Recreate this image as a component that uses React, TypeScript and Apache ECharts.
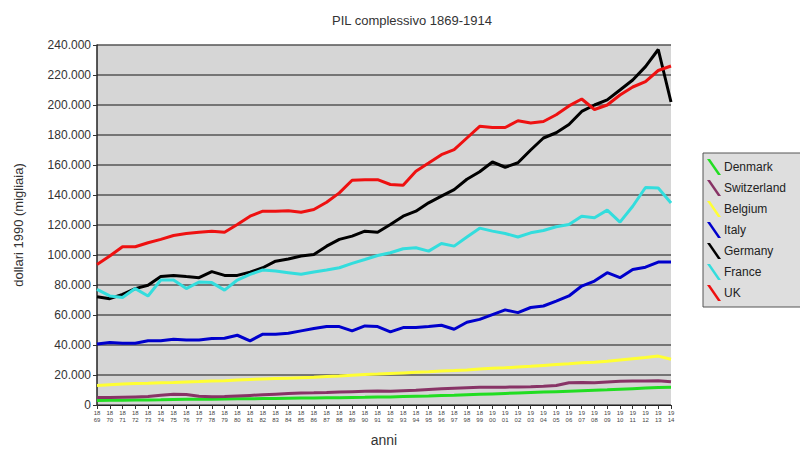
import React, { useEffect, useRef } from "react";
import * as echarts from "echarts";

const years = [
  1869, 1870, 1871, 1872, 1873, 1874, 1875, 1876, 1877, 1878, 1879, 1880, 1881, 1882, 1883, 1884,
  1885, 1886, 1887, 1888, 1889, 1890, 1891, 1892, 1893, 1894, 1895, 1896, 1897, 1898, 1899, 1900,
  1901, 1902, 1903, 1904, 1905, 1906, 1907, 1908, 1909, 1910, 1911, 1912, 1913, 1914,
];

const denmark = [
  3.0, 3.1, 3.2, 3.3, 3.4, 3.5, 3.7, 3.8, 3.8, 3.9, 4.0, 4.1, 4.2, 4.3, 4.4, 4.5,
  4.6, 4.7, 4.8, 4.9, 5.0, 5.1, 5.3, 5.4, 5.6, 5.8, 6.0, 6.3, 6.5, 6.8, 7.1, 7.4,
  7.7, 8.0, 8.3, 8.6, 8.9, 9.2, 9.5, 9.8, 10.1, 10.5, 10.9, 11.3, 11.7, 11.8,
];
const switzerland = [
  5.0, 5.0, 5.2, 5.4, 5.6, 6.5, 7.2, 7.0, 5.8, 5.5, 5.6, 6.0, 6.4, 6.8, 7.2, 7.6,
  8.0, 8.1, 8.3, 8.6, 8.9, 9.2, 9.3, 9.2, 9.5, 9.8, 10.3, 10.8, 11.2, 11.5, 11.8, 11.9,
  11.9, 12.0, 12.2, 12.5, 13.0, 14.8, 15.0, 14.8, 15.4, 15.8, 16.0, 16.0, 16.2, 15.5,
];
const belgium = [
  13.0, 13.5, 14.0, 14.3, 14.5, 14.8, 15.0, 15.3, 15.6, 16.0, 16.2, 16.6, 17.0, 17.3, 17.6, 17.9,
  18.2, 18.5, 19.0, 19.4, 19.9, 20.3, 20.6, 21.0, 21.4, 21.8, 22.2, 22.7, 23.0, 23.4, 24.0, 24.5,
  24.8, 25.3, 25.8, 26.4, 27.0, 27.5, 28.1, 28.5, 29.2, 30.0, 30.8, 31.6, 32.6, 30.5,
];
const italy = [
  40.6, 41.7, 41.2, 41.2, 42.8, 42.8, 43.9, 43.4, 43.4, 44.3, 44.5, 46.5, 42.8, 47.2, 47.2, 47.8,
  49.4, 51.0, 52.3, 52.3, 49.4, 52.7, 52.3, 48.7, 51.6, 51.6, 52.3, 53.2, 50.5, 55.2, 57.1, 60.3,
  63.4, 61.6, 65.0, 66.0, 69.3, 72.7, 79.3, 82.6, 88.2, 84.9, 90.4, 91.9, 95.3, 95.3,
];
const germany = [
  72.2, 70.9, 73.8, 77.6, 79.8, 85.6, 86.4, 85.6, 84.9, 88.9, 86.4, 86.4, 88.6, 91.5, 95.9, 97.3,
  99.3, 100.4, 105.9, 110.4, 112.6, 115.9, 115.2, 120.3, 125.9, 129.2, 134.8, 139.2, 143.6, 150.5, 155.5, 162.0,
  158.5, 161.5, 170.0, 178.0, 181.5, 187.0, 195.7, 200.0, 203.4, 210.0, 216.7, 225.6, 237.0, 202.0,
];
const france = [
  77.1, 72.7, 71.6, 77.6, 72.7, 83.3, 83.3, 77.6, 82.0, 81.6, 76.6, 83.3, 87.1, 90.0, 89.3, 88.2,
  87.1, 88.6, 90.0, 91.5, 94.4, 97.0, 99.7, 101.5, 104.2, 104.8, 102.6, 107.7, 105.9, 112.0, 117.9, 115.9,
  114.3, 112.0, 114.8, 116.3, 118.8, 120.3, 125.9, 124.8, 129.9, 121.9, 132.5, 145.0, 144.7, 134.7,
];
const uk = [
  93.7, 99.3, 105.5, 105.5, 108.2, 110.4, 113.0, 114.3, 115.2, 115.9, 115.2, 120.3, 125.9, 129.2, 129.2, 129.5,
  128.5, 130.3, 135.2, 141.4, 149.8, 150.2, 150.2, 147.0, 146.5, 155.8, 161.3, 166.9, 170.2, 178.0, 185.8, 185.0,
  185.0, 189.5, 188.0, 189.0, 193.5, 199.4, 204.0, 197.0, 200.0, 206.7, 212.0, 215.6, 223.0, 226.0,
];

const seriesNames = ["Denmark", "Switzerland", "Belgium", "Italy", "Germany", "France", "UK"];
const seriesData = [denmark, switzerland, belgium, italy, germany, france, uk];
const seriesColors = ["#22dd22", "#883366", "#ffff33", "#0000cc", "#000000", "#33dddd", "#ee1111"];

const formatIt = (v: number) => {
  const s = String(Math.round(v));
  return s.replace(/\B(?=(\d{3})+(?!\d))/g, ".");
};

export default function App() {
  const ref = useRef<HTMLDivElement>(null);
  useEffect(() => {
    if (!ref.current) return;
    const chart = echarts.init(ref.current, undefined, { renderer: "svg" });
    const font = "Liberation Sans, Arial, sans-serif";
    chart.setOption({
      animation: false,
      backgroundColor: "#ffffff",
      title: {
        text: "PIL complessivo 1869-1914",
        left: 407,
        top: 9,
        textAlign: "center",
        textStyle: { fontFamily: font, fontSize: 13, fontWeight: "normal", color: "#333" },
      },
      grid: {
        left: 97,
        top: 45,
        right: 129,
        bottom: 46,
        show: true,
        backgroundColor: "#d6d6d6",
        borderWidth: 0,
      },
      legend: {
        orient: "vertical",
        left: 703,
        top: 153,
        padding: [6, 30, 6, 4],
        itemWidth: 14,
        itemHeight: 16,
        itemGap: 5,
        backgroundColor: "#dedede",
        borderColor: "#555",
        borderWidth: 1,
        borderRadius: 0,
        icon: "path://M0,0 L3,0 L14,16 L11,16 Z",
        textStyle: { fontFamily: font, fontSize: 12, color: "#222", padding: [0, 0, 0, -2] },
        data: seriesNames,
      },
      xAxis: {
        type: "category",
        data: years.map(String),
        boundaryGap: false,
        name: "anni",
        nameLocation: "middle",
        nameGap: 28,
        nameTextStyle: { fontFamily: font, fontSize: 14, color: "#333" },
        axisLine: { lineStyle: { color: "#222", width: 1 } },
        axisTick: { show: true, interval: 0, length: 4, lineStyle: { color: "#333" } },
        axisLabel: {
          interval: 0,
          fontSize: 6,
          lineHeight: 7,
          color: "#444",
          margin: 4,
          fontFamily: font,
          formatter: (v: string) => v.slice(0, 2) + "\n" + v.slice(2),
        },
        splitLine: { show: false },
      },
      yAxis: {
        type: "value",
        min: 0,
        max: 240000,
        interval: 20000,
        name: "dollari 1990 (migliaia)",
        nameLocation: "middle",
        nameGap: 72,
        nameTextStyle: { fontFamily: font, fontSize: 13, color: "#333" },
        axisLine: { show: true, lineStyle: { color: "#222", width: 1.5 } },
        axisTick: { show: true, length: 4, lineStyle: { color: "#333" } },
        axisLabel: {
          fontFamily: font,
          fontSize: 12,
          color: "#333",
          margin: 6,
          formatter: (v: number) => formatIt(v),
        },
        splitLine: { show: true, lineStyle: { color: "#555", width: 1.5 } },
      },
      series: seriesNames.map((name, i) => ({
        name,
        type: "line",
        data: seriesData[i].map((v) => v * 1000),
        showSymbol: false,
        symbol: "none",
        lineStyle: { color: seriesColors[i], width: 3 },
        itemStyle: { color: seriesColors[i] },
      })),
    });
    return () => chart.dispose();
  }, []);
  return <div ref={ref} style={{ width: 800, height: 452, position: "absolute", left: 0, top: 0 }} />;
}
